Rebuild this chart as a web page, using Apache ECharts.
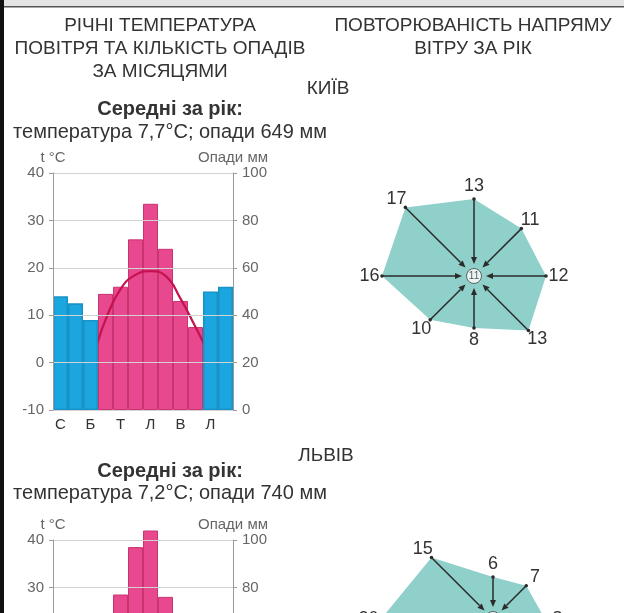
<!DOCTYPE html>
<html><head><meta charset="utf-8">
<script src="https://cdn.jsdelivr.net/npm/echarts@6/dist/echarts.min.js"></script>
<style>html,body{margin:0;padding:0;background:#fff;overflow:hidden}#wrap{width:624px;height:613px;overflow:hidden;position:relative}#c{width:624px;height:800px}</style>
</head><body><div id="wrap"><div id="c"></div></div>
<script>
// ---- data ----
const months = ['С','Л','Б','К','Т','Ч','Л','С','В','Ж','Л','Г'];
const kyivTemp = [-5, -4, 0.5, 9, 15.5, 18.5, 19.3, 18.3, 13.5, 7.5, 1.5, -3];
const kyivPrecip = [48, 45, 38, 49, 52, 72, 87, 68, 46, 35, 50, 52];
const lvivTemp = [-4.2, -3.0, 1.0, 7.5, 13.2, 16.1, 17.5, 16.9, 12.9, 7.9, 2.6, -1.6];
const lvivPrecip = [42, 41, 40, 50, 77, 97, 104, 76, 62, 50, 50, 51];
const windDirs = [0, 45, 90, 135, 180, 225, 270, 315]; // Пн, ПнС, С, ПдС, Пд, ПдЗ, З, ПнЗ
const kyivWind = [13, 11, 12, 13, 8, 10, 16, 17];
const kyivCalm = 11;
const lvivWind = [6, 7, 8, 14, 12, 18, 20, 15];
const lvivCalm = 10;
const tempRange = [-10, 40, 10];
const precipRange = [0, 100, 20];
const WARM_T = 5;

// ---- style ----
const FONT = '"Liberation Sans", Arial, sans-serif';
const BLUE = '#1ba6df', BLUE_B = '#1893c8';
const PINK = '#e8488e', PINK_B = '#c9336f';
const LINE = '#c4124f';
const TEAL = '#8fd0ca';
const INK = '#2b2b2b';
const R_MIN = -2.4, R_MAX = 20;

const chart = echarts.init(document.getElementById('c'), null, {renderer: 'canvas'});

function yAxes(g) {
  const common = {
    gridIndex: g, type: 'value', nameLocation: 'end', nameGap: 7,
    nameTextStyle: {color: '#666', fontSize: 15, fontFamily: FONT, align: 'center'},
    axisLine: {show: true, lineStyle: {color: '#9a9a9a', width: 1}},
    axisTick: {show: true, length: 4, lineStyle: {color: '#9a9a9a'}},
    axisLabel: {color: '#666', fontSize: 15, fontFamily: FONT, margin: 9},
    zlevel: 1, z: 4
  };
  return [Object.assign({}, common, {
    position: 'left', min: tempRange[0], max: tempRange[1], interval: tempRange[2], name: 't °C',
    splitLine: {show: true, lineStyle: {color: '#d2d2d2', width: 1}}
  }), Object.assign({}, common, {
    position: 'right', min: precipRange[0], max: precipRange[1], interval: precipRange[2], name: 'Опади мм',
    splitLine: {show: false}
  })];
}
function xAxis(g) {
  return {
    gridIndex: g, type: 'category', data: months, boundaryGap: true,
    axisLine: {show: true, lineStyle: {color: '#aaa'}},
    axisTick: {show: false},
    axisLabel: {interval: 1, color: '#333', fontSize: 15, fontFamily: FONT, margin: 7}
  };
}
function climateSeries(g, temp, precip) {
  const xi = g, yT = g * 2, yP = g * 2 + 1;
  return [
    {type: 'bar', xAxisIndex: xi, yAxisIndex: yP, barWidth: '100%', barGap: '-100%', clip: false, z: 1,
     data: precip.map((v, i) => temp[i] > WARM_T ? v : '-'),
     itemStyle: {color: PINK, borderColor: PINK_B, borderWidth: 1}},
    {type: 'line', xAxisIndex: xi, yAxisIndex: yT, data: temp, smooth: true, symbol: 'none', z: 2,
     lineStyle: {color: LINE, width: 2.2}},
    {type: 'bar', xAxisIndex: xi, yAxisIndex: yP, barWidth: '100%', barGap: '-100%', clip: false, zlevel: 1, z: 1,
     data: precip.map((v, i) => temp[i] > WARM_T ? '-' : v),
     itemStyle: {color: BLUE, borderColor: BLUE_B, borderWidth: 1.6}}
  ];
}
function roseSeries(p, wind, calm) {
  const pts = wind.map((v, i) => [v, windDirs[i]]);
  return [
    {type: 'line', coordinateSystem: 'polar', polarIndex: p, data: pts.concat([[wind[0], 360]]),
     symbol: 'none', lineStyle: {width: 0}, areaStyle: {color: TEAL, opacity: 1, origin: 'start'}, z: 1},
    {type: 'custom', coordinateSystem: 'polar', polarIndex: p, data: pts, z: 3,
     renderItem: function (params, api) {
       const v = api.value(0), a = api.value(1);
       const p1 = api.coord([v, a]);
       const p0 = api.coord([0, a]);
       const dx = p0[0] - p1[0], dy = p0[1] - p1[1];
       const len = Math.hypot(dx, dy) || 1;
       const ux = dx / len, uy = dy / len;
       const hl = 7, hw = 3;
       const bx = p0[0] - ux * hl, by = p0[1] - uy * hl;
       const lp = api.coord([v + 2.5, a]);
       return {type: 'group', children: [
         {type: 'line', shape: {x1: p1[0], y1: p1[1], x2: bx, y2: by}, style: {stroke: INK, lineWidth: 1.5}},
         {type: 'polygon', shape: {points: [[p0[0], p0[1]], [bx - uy * hw, by + ux * hw], [bx + uy * hw, by - ux * hw]]}, style: {fill: INK}},
         {type: 'circle', shape: {cx: p1[0], cy: p1[1], r: 1.8}, style: {fill: INK}},
         {type: 'text', style: {text: String(v), x: lp[0], y: lp[1], align: 'center', verticalAlign: 'middle',
           fontSize: 18, fontFamily: FONT, fill: '#333'}}
       ]};
     }},
    {type: 'scatter', coordinateSystem: 'polar', polarIndex: p, data: [[R_MIN, 0]], symbolSize: 15, z: 4,
     itemStyle: {color: '#fff', borderColor: '#444', borderWidth: 1},
     label: {show: true, position: 'inside', formatter: String(calm), fontSize: 10, color: '#333', fontFamily: FONT}}
  ];
}

function txt(text, x, y, size, opts) {
  return Object.assign({type: 'text', x: x, y: y, silent: true,
    style: Object.assign({text: text, fontSize: size, fontFamily: FONT, fill: '#333', align: 'center', verticalAlign: 'middle'}, opts || {})});
}

const option = {
  animation: false,
  backgroundColor: '#fff',
  grid: [
    {left: 53, width: 180, top: 173, height: 237},
    {left: 53, width: 180, top: 540, height: 237}
  ],
  xAxis: [xAxis(0), xAxis(1)],
  yAxis: yAxes(0).concat(yAxes(1)),
  polar: [
    {center: [474, 276], radius: 112},
    {center: [493, 619], radius: 112}
  ],
  angleAxis: [
    {polarIndex: 0, type: 'value', min: 0, max: 360, startAngle: 90, clockwise: true, show: false},
    {polarIndex: 1, type: 'value', min: 0, max: 360, startAngle: 90, clockwise: true, show: false}
  ],
  radiusAxis: [
    {polarIndex: 0, type: 'value', min: R_MIN, max: R_MAX, show: false},
    {polarIndex: 1, type: 'value', min: R_MIN, max: R_MAX, show: false}
  ],
  series: climateSeries(0, kyivTemp, kyivPrecip)
    .concat(climateSeries(1, lvivTemp, lvivPrecip))
    .concat(roseSeries(0, kyivWind, kyivCalm))
    .concat(roseSeries(1, lvivWind, lvivCalm)),
  graphic: [
    {type: 'rect', shape: {x: 0, y: 0, width: 624, height: 7}, style: {fill: '#e4e4e4'}, silent: true},
    {type: 'rect', shape: {x: 0, y: 6, width: 624, height: 1.5}, style: {fill: '#555'}, silent: true},
    {type: 'rect', shape: {x: 0, y: 0, width: 4, height: 800}, style: {fill: '#111'}, silent: true},
    txt('РІЧНІ ТЕМПЕРАТУРА\nПОВІТРЯ ТА КІЛЬКІСТЬ ОПАДІВ\nЗА МІСЯЦЯМИ', 160, 14, 19, {verticalAlign: 'top', lineHeight: 23}),
    txt('ПОВТОРЮВАНІСТЬ НАПРЯМУ\nВІТРУ ЗА РІК', 473, 14, 19, {verticalAlign: 'top', lineHeight: 23}),
    txt('КИЇВ', 328, 89, 19),
    txt('Середні за рік:', 170, 109, 20, {fontWeight: 'bold'}),
    txt('температура 7,7°C; опади 649 мм', 170, 132, 20),
    txt('ЛЬВІВ', 326, 456, 19),
    txt('Середні за рік:', 170, 471, 20, {fontWeight: 'bold'}),
    txt('температура 7,2°C; опади 740 мм', 170, 493, 20)
  ]
};
chart.setOption(option);
</script>
</body></html>
